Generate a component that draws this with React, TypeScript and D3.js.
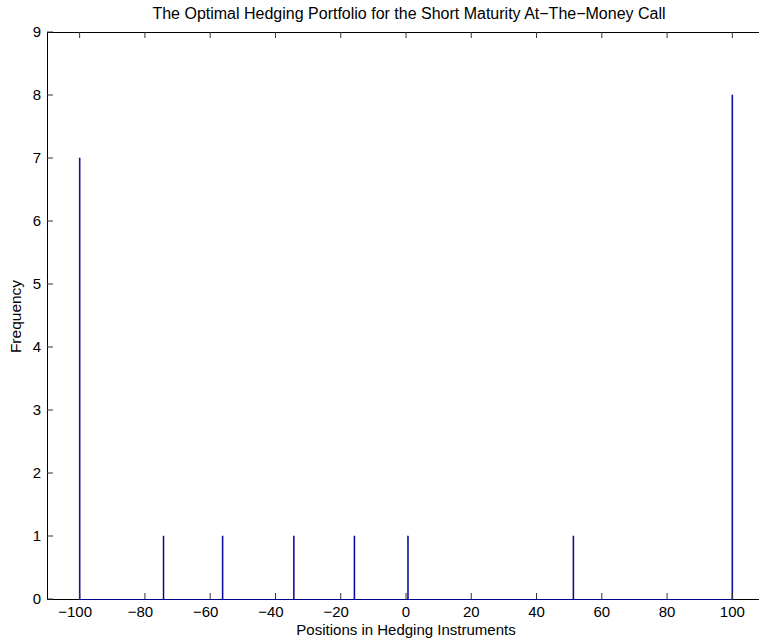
import React from "react";
import * as d3 from "d3";

const positions = [-100, -74.3, -56.2, -34.4, -15.8, 0.6, 51.3, 100];
const frequencies = [7, 1, 1, 1, 1, 1, 1, 8];
const xTicks = [-100, -80, -60, -40, -20, 0, 20, 40, 60, 80, 100];
const yTicks = [0, 1, 2, 3, 4, 5, 6, 7, 8, 9];
const binWidth = 0.3;
const title = "The Optimal Hedging Portfolio for the Short Maturity At\u2212The\u2212Money Call";
const xLabel = "Positions in Hedging Instruments";
const yLabel = "Frequency";

const W = 759;
const H = 639;
const L = 47, R = 765, T = 32, B = 599;
const font = "'Liberation Sans', Arial, Helvetica, sans-serif";
const barFill = "#0000B0";
const barStroke = "#000088";

export default function App() {
  const x = d3.scaleLinear().domain([-110, 110]).range([L, R]);
  const y = d3.scaleLinear().domain([0, 9]).range([B, T]);
  const tickLen = 6;
  const fmt = (v: number) => (v < 0 ? "\u2212" + Math.abs(v) : String(v));

  return (
    <svg width={W} height={H} style={{ position: "absolute", left: 0, top: 0, background: "#fff" }}>
      <rect x={0} y={0} width={W} height={H} fill="#fff" />
      {positions.map((p, i) => (
        <rect
          key={i}
          x={x(p - binWidth / 2)}
          width={x(p + binWidth / 2) - x(p - binWidth / 2)}
          y={y(frequencies[i])}
          height={y(0) - y(frequencies[i])}
          fill={barFill}
          stroke={barStroke}
          strokeWidth={0.5}
        />
      ))}
      {/* box */}
      <line x1={L} x2={R} y1={T + 0.5} y2={T + 0.5} stroke="#000" strokeWidth={1} />
      <line x1={L} x2={x(-100)} y1={B + 0.5} y2={B + 0.5} stroke="#000" strokeWidth={1} />
      <line x1={x(100)} x2={R} y1={B + 0.5} y2={B + 0.5} stroke="#000" strokeWidth={1} />
      <line x1={L + 0.5} x2={L + 0.5} y1={T} y2={B + 1} stroke="#000" strokeWidth={1} />
      <line x1={R - 0.5} x2={R - 0.5} y1={T} y2={B + 1} stroke="#000" strokeWidth={1} />
      {/* baseline of empty bins */}
      <line x1={x(-100)} x2={x(100)} y1={B + 0.5} y2={B + 0.5} stroke={barStroke} strokeWidth={1} />
      {/* x ticks */}
      {xTicks.map((t) => (
        <g key={"x" + t}>
          <line x1={x(t)} x2={x(t)} y1={B} y2={B - tickLen} stroke="#333" strokeWidth={1} />
          <line x1={x(t)} x2={x(t)} y1={T} y2={T + tickLen} stroke="#333" strokeWidth={1} />
          <text
            x={x(t) + (t < 0 ? -4.5 : 0)}
            y={617}
            textAnchor="middle"
            fontFamily={font}
            fontSize={15}
            fill="#000"
          >
            {fmt(t)}
          </text>
        </g>
      ))}
      {/* y ticks */}
      {yTicks.map((t) => (
        <g key={"y" + t}>
          <line x1={L} x2={L + tickLen} y1={y(t)} y2={y(t)} stroke="#333" strokeWidth={1} />
          <line x1={R} x2={R - tickLen} y1={y(t)} y2={y(t)} stroke="#333" strokeWidth={1} />
          <text
            x={41}
            y={y(t)}
            dy="0.36em"
            textAnchor="end"
            fontFamily={font}
            fontSize={15}
            fill="#000"
          >
            {t}
          </text>
        </g>
      ))}
      <text x={409} y={19} textAnchor="middle" fontFamily={font} fontSize={16} fill="#000">
        {title}
      </text>
      <text x={406} y={635} textAnchor="middle" fontFamily={font} fontSize={15} fill="#000">
        {xLabel}
      </text>
      <text
        transform={`translate(21, ${(T + B) / 2 + 1}) rotate(-90)`}
        textAnchor="middle"
        fontFamily={font}
        fontSize={15.5}
        fill="#000"
      >
        {yLabel}
      </text>
    </svg>
  );
}
